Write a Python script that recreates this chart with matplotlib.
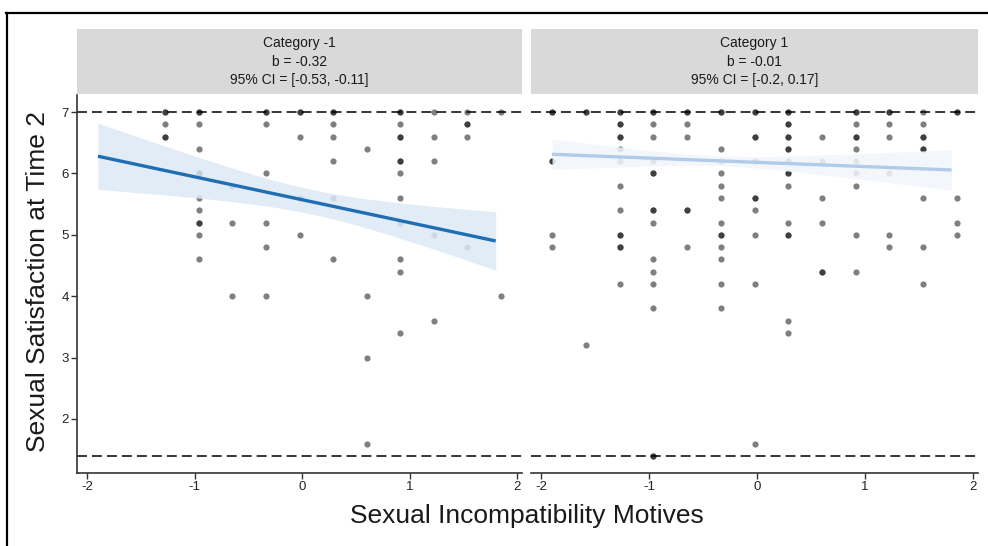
import numpy as np
import matplotlib
matplotlib.use("Agg")
import matplotlib.pyplot as plt
from matplotlib.lines import Line2D
from matplotlib.patches import Rectangle

plt.rcParams['font.family'] = ['Liberation Sans', 'DejaVu Sans']

# discrete x levels of the predictor (column index -> value)
x_levels = [-1.90, -1.5875, -1.275, -0.9625, -0.65, -0.3375, -0.025,
            0.2875, 0.60, 0.9125, 1.225, 1.5375, 1.85]

# left panel (Category -1): y rows and the column indices of the points in each row
# (repeated indices = overlapping points, drawn darker)
left_y = [7.0, 6.8, 6.6, 6.4, 6.2, 6.0, 5.8, 5.6, 5.4, 5.2, 5.0, 4.8, 4.6, 4.4,
          4.0, 3.6, 3.4, 3.0, 1.6]
left_cols = [[2, 2, 3, 3, 5, 5, 6, 6, 7, 7, 9, 9, 10, 11, 12],
             [2, 3, 5, 7, 9, 11, 11],
             [2, 2, 6, 7, 9, 9, 10, 11],
             [3, 8],
             [7, 9, 9, 10],
             [3, 3, 5, 9],
             [4],
             [3, 6, 7, 9],
             [3],
             [3, 3, 4, 5, 9],
             [3, 6, 10],
             [5, 11],
             [3, 7, 9],
             [9],
             [4, 5, 8, 12],
             [10],
             [9],
             [8],
             [8]]

# right panel (Category 1)
right_y = [7.0, 6.8, 6.6, 6.4, 6.2, 6.0, 5.8, 5.6, 5.4, 5.2, 5.0, 4.8, 4.6, 4.4,
           4.2, 3.8, 3.6, 3.4, 3.2, 1.6, 1.4]
right_cols = [[0, 0, 1, 1, 2, 2, 3, 3, 4, 4, 5, 5, 6, 6, 7, 7, 9, 9, 10, 10, 11, 12, 12],
              [2, 2, 3, 4, 7, 7, 9, 10, 11],
              [2, 2, 3, 4, 6, 6, 7, 7, 8, 9, 9, 10, 11, 11],
              [2, 5, 7, 7, 9, 11, 11],
              [0, 0, 2, 3, 5, 6, 7, 8, 9],
              [3, 3, 5, 7, 7, 9, 10],
              [2, 5, 7, 9],
              [5, 6, 6, 8, 11, 12],
              [2, 3, 3, 4, 4, 6],
              [3, 5, 7, 8, 12],
              [0, 2, 2, 5, 5, 6, 7, 7, 9, 10, 12],
              [0, 2, 2, 4, 5, 10, 11],
              [3, 5],
              [3, 8, 8, 9],
              [2, 3, 5, 6, 11],
              [3, 5],
              [7],
              [7],
              [1],
              [6],
              [3, 3]]

# fitted lines: value at x=0, slope, CI shape (min half-width^2, curvature, centre)
strip_titles = ["Category -1\nb = -0.32\n95% CI = [-0.53, -0.11]",
                "Category 1\nb = -0.01\n95% CI = [-0.2, 0.17]"]
fit_intercept = [5.571, 6.18]
fit_slope = [-0.373, -0.069]
ci_a = [0.04, 0.0064]
ci_c = [0.0637, 0.0227]
ci_center = [0.09, -0.33]
fit_range = [-1.90, 1.80]
line_colors = ["#1f6db3", "#b0cce8"]
band_colors = ["#dde9f5", "#f2f6fb"]

ref_lines = [7.0, 1.4]
y_ticks = [2, 3, 4, 5, 6, 7]
x_ticks = [-2, -1, 0, 1, 2]

fig = plt.figure(figsize=(9.88, 5.46), dpi=100)
W, H = 988, 546
panels = [(77, 522), (531, 978)]
top, bottom = 95, 473
strip_top, strip_bot = 29, 94

for i, (x0, x1) in enumerate(panels):
    ax = fig.add_axes([x0 / W, (H - bottom) / H, (x1 - x0) / W, (bottom - top) / H])
    ax.set_xlim(-2.095, 2.045)
    ax.set_ylim(1.12, 7.277)

    for yv in ref_lines:
        ax.axhline(yv, color='black', lw=1.1, dashes=(6.5, 3.3), zorder=1)

    ys = left_y if i == 0 else right_y
    cols = left_cols if i == 0 else right_cols
    px, py = [], []
    for yv, cl in zip(ys, cols):
        for c in cl:
            px.append(x_levels[c])
            py.append(yv)
    ax.scatter(px, py, s=20, color='black', alpha=0.5, linewidths=0, zorder=2)

    xx = np.linspace(fit_range[0], fit_range[1], 200)
    yy = fit_intercept[i] + fit_slope[i] * xx
    hw = np.sqrt(ci_a[i] + ci_c[i] * (xx - ci_center[i]) ** 2)
    ax.fill_between(xx, yy - hw, yy + hw, color=band_colors[i], alpha=0.85, lw=0, zorder=3)
    ax.plot(xx, yy, color=line_colors[i], lw=2.4, zorder=4, solid_capstyle='butt')

    for s in ['top', 'right']:
        ax.spines[s].set_visible(False)
    ax.spines['bottom'].set_color('#333333')
    ax.spines['bottom'].set_linewidth(1.2)
    ax.set_xticks(x_ticks)
    ax.set_xticklabels([str(t) for t in x_ticks])
    ax.tick_params(axis='x', colors='#333333', labelsize=9.5, length=4, width=1.0, pad=2)
    ax.tick_params(axis='x', labelcolor='#222222')
    if i == 0:
        ax.spines['left'].set_color('#333333')
        ax.spines['left'].set_linewidth(1.2)
        ax.set_yticks(y_ticks)
        ax.tick_params(axis='y', colors='#333333', labelsize=9.5, length=4, width=1.0, pad=2)
        ax.tick_params(axis='y', labelcolor='#222222')
    else:
        ax.spines['left'].set_visible(False)
        ax.set_yticks([])

    # facet strip
    sax = fig.add_axes([x0 / W, (H - strip_bot) / H, (x1 - x0) / W, (strip_bot - strip_top) / H])
    sax.set_xlim(0, 1)
    sax.set_ylim(0, 1)
    sax.axis('off')
    sax.add_patch(Rectangle((0, 0), 1, 1, color='#d9d9d9', lw=0))
    sax.text(0.5, 0.5, strip_titles[i], ha='center', va='center', fontsize=10,
             color='#1a1a1a', linespacing=1.45)

fig.text(527 / W, (H - 516) / H, "Sexual Incompatibility Motives",
         ha='center', va='center', fontsize=19, color='#1a1a1a')
fig.text(38 / W, (H - 282) / H, "Sexual Satisfaction at Time 2", rotation=90,
         ha='center', va='center', fontsize=19, color='#1a1a1a')

# outer frame lines (top and left)
fig.add_artist(Line2D([6 / W, 1.0], [(H - 13) / H, (H - 13) / H], color='black', lw=1.6))
fig.add_artist(Line2D([7 / W, 7 / W], [0, (H - 13) / H], color='black', lw=1.6))

fig.savefig("out.png", dpi=100)
